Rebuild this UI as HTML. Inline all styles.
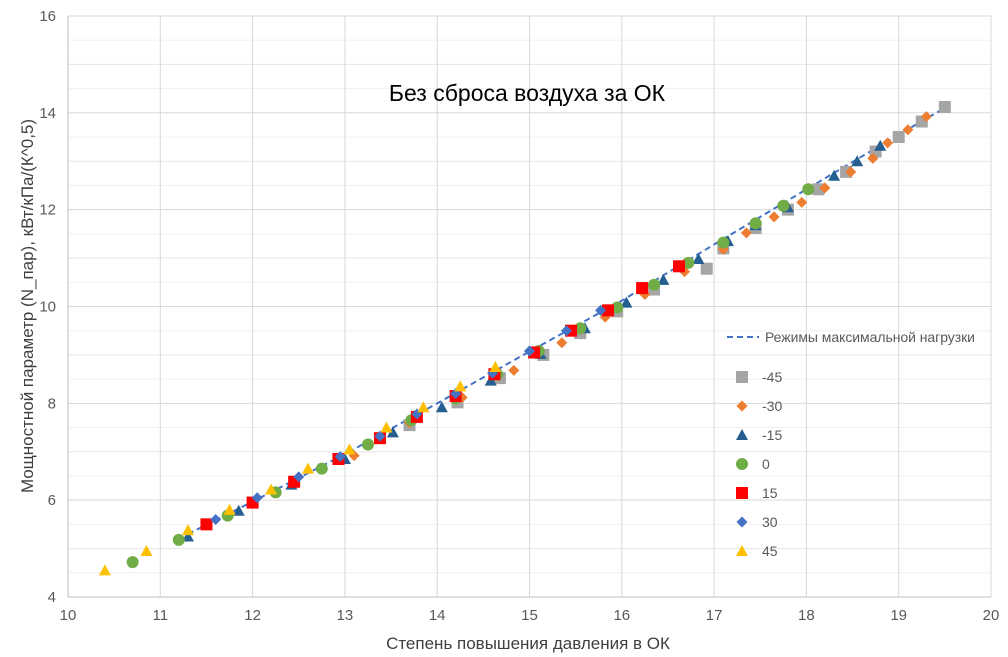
<!DOCTYPE html>
<html><head><meta charset="utf-8"><style>body{margin:0;background:#fff}svg{display:block;font-family:"Liberation Sans",sans-serif}</style></head><body>
<svg id="s" width="1008" height="657" xmlns="http://www.w3.org/2000/svg"></svg>
<script>
const s=document.getElementById('s');let h='';
const X=x=>68+92.3*(x-10),Y=y=>597-48.42*(y-4);
for(let y=4.5;y<16;y+=1){h+=`<line x1="68" x2="991" y1="${Y(y)}" y2="${Y(y)}" stroke="#f0f0f0"/>`;}
for(let y=5;y<16;y+=2){h+=`<line x1="68" x2="991" y1="${Y(y)}" y2="${Y(y)}" stroke="#e6e6e6"/>`;}
for(let y=4;y<=16;y+=2){h+=`<line x1="68" x2="991" y1="${Y(y)}" y2="${Y(y)}" stroke="#d9d9d9"/>`;h+=`<text x="56" y="${Y(y)+5}" font-size="15" fill="#595959" text-anchor="end">${y}</text>`;}
for(let x=10;x<=20;x++){h+=`<line y1="16" y2="597" x1="${X(x)}" x2="${X(x)}" stroke="#d9d9d9"/>`;h+=`<text x="${X(x)}" y="620" font-size="15" fill="#595959" text-anchor="middle">${x}</text>`;}
h+=`<line x1="68" x2="991" y1="597" y2="597" stroke="#bfbfbf"/><line x1="68" x2="68" y1="16" y2="597" stroke="#bfbfbf"/>`;
const line=[[11.3,5.3],[12,5.97],[13,6.95],[14,8.0],[15,9.07],[16,10.12],[17,11.28],[18,12.42],[19,13.55],[19.5,14.1]];
h+=`<polyline fill="none" stroke="#4472c4" stroke-width="2" stroke-dasharray="6,4" points="${line.map(p=>X(p[0])+','+Y(p[1])).join(' ')}"/>`;
function m(t,x,y,c){if(t=='sq')return `<rect x="${x-6}" y="${y-6}" width="12" height="12" fill="${c}"/>`;
if(t=='di')return `<polygon points="${x},${y-5.5} ${x+5.5},${y} ${x},${y+5.5} ${x-5.5},${y}" fill="${c}"/>`;
if(t=='tr')return `<polygon points="${x},${y-6} ${x+6},${y+5} ${x-6},${y+5}" fill="${c}"/>`;
return `<circle cx="${x}" cy="${y}" r="6" fill="${c}"/>`;}
const S=[
['sq','#a5a5a5',[[13.7,7.55],[14.22,8.02],[14.68,8.52],[15.15,9.0],[15.55,9.45],[15.95,9.9],[16.35,10.35],[16.92,10.78],[17.1,11.2],[17.45,11.62],[17.8,12.0],[18.13,12.42],[18.43,12.78],[18.75,13.2],[19.0,13.5],[19.25,13.82],[19.5,14.12]]],
['di','#ed7d31',[[13.1,6.92],[13.7,7.6],[14.27,8.12],[14.83,8.68],[15.35,9.25],[15.82,9.78],[16.25,10.25],[16.68,10.72],[17.1,11.18],[17.35,11.52],[17.65,11.85],[17.95,12.15],[18.2,12.45],[18.48,12.78],[18.72,13.06],[18.88,13.38],[19.1,13.65],[19.3,13.92]]],
['tr','#255e91',[[11.3,5.25],[11.85,5.78],[12.42,6.32],[13,6.85],[13.52,7.4],[14.05,7.92],[14.58,8.47],[15.12,9.02],[15.6,9.55],[16.05,10.08],[16.45,10.55],[16.83,10.98],[17.15,11.35],[17.45,11.68],[17.8,12.05],[18.3,12.7],[18.55,13.0],[18.8,13.32]]],
['ci','#70ad47',[[10.7,4.72],[11.2,5.18],[11.73,5.68],[12.25,6.16],[12.75,6.65],[13.25,7.15],[13.72,7.65],[14.2,8.1],[14.65,8.6],[15.1,9.08],[15.55,9.55],[15.95,9.98],[16.35,10.45],[16.72,10.9],[17.1,11.32],[17.45,11.72],[17.75,12.08],[18.02,12.42]]],
['sq','#ff0000',[[11.5,5.5],[12,5.95],[12.45,6.38],[12.93,6.85],[13.38,7.28],[13.78,7.72],[14.2,8.15],[14.62,8.6],[15.05,9.05],[15.45,9.5],[15.85,9.92],[16.22,10.38],[16.62,10.83]]],
['di','#4472c4',[[11.6,5.6],[12.05,6.05],[12.5,6.48],[12.95,6.9],[13.38,7.32],[13.78,7.78],[14.2,8.2],[14.6,8.62],[15,9.08],[15.4,9.5],[15.77,9.92]]],
['tr','#ffc000',[[10.4,4.55],[10.85,4.95],[11.3,5.38],[11.75,5.8],[12.2,6.22],[12.6,6.65],[13.05,7.05],[13.45,7.5],[13.85,7.92],[14.25,8.35],[14.63,8.75]]]];
const names=['-45','-30','-15','0','15','30','45'];
S.forEach((sr,i)=>{sr[2].forEach(p=>h+=m(sr[0],X(p[0]),Y(p[1]),sr[1]));
const ly=377+i*29;h+=m(sr[0],742,ly,sr[1]);h+=`<text x="762" y="${ly+5}" font-size="14" fill="#595959">${names[i]}</text>`;});
h+=`<line x1="727" x2="759" y1="337" y2="337" stroke="#4472c4" stroke-width="2" stroke-dasharray="6,4"/><text x="765" y="342" font-size="14" fill="#595959" textLength="210">Режимы максимальной нагрузки</text>`;
h+=`<text x="527" y="101" font-size="23" fill="#000" text-anchor="middle">Без сброса воздуха за ОК</text>`;
h+=`<text x="528" y="649" font-size="17" fill="#404040" text-anchor="middle">Степень повышения давления в ОК</text>`;
h+=`<text transform="translate(33,306) rotate(-90)" font-size="17" fill="#404040" text-anchor="middle">Мощностной параметр (N_пар), кВт/кПа/(К^0,5)</text>`;
s.innerHTML=h;
</script></body></html>
